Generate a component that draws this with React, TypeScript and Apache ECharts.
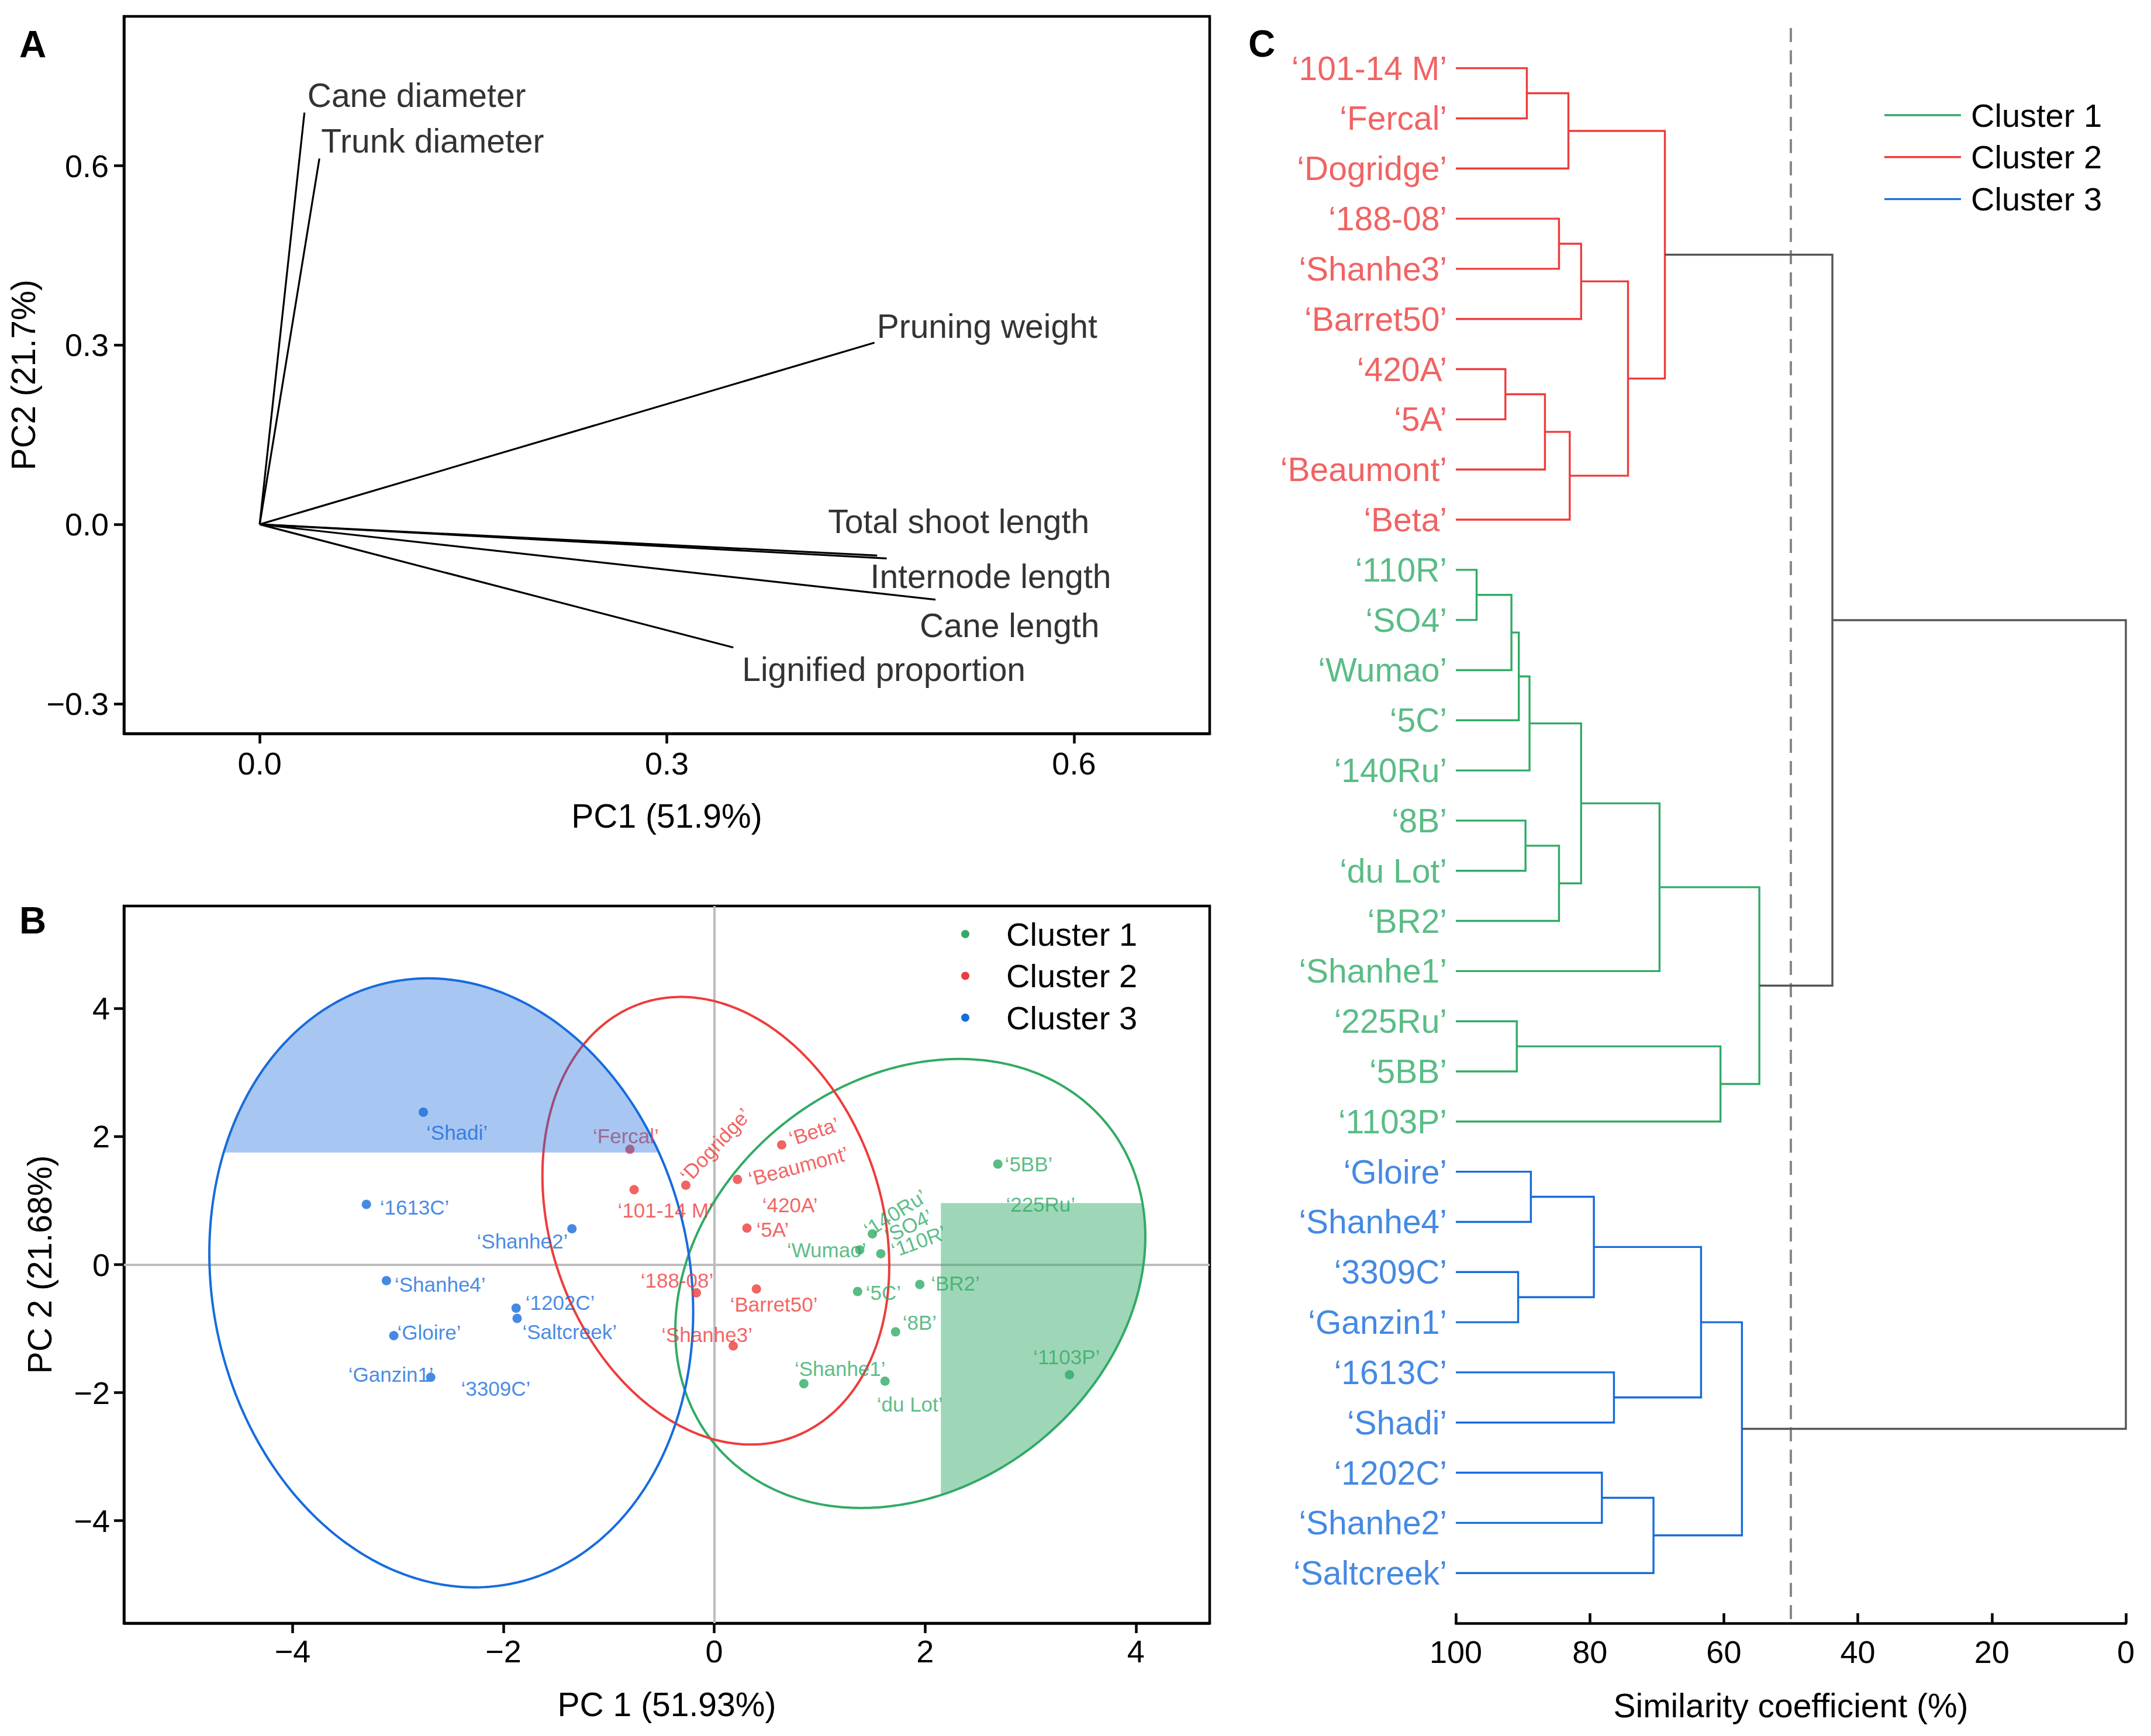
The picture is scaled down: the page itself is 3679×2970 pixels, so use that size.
import React, { useEffect, useRef } from 'react';
import * as echarts from 'echarts';

const FONT = '"Liberation Sans", Arial, Helvetica, sans-serif';
const GREEN = '#31ab66';
const RED = '#ee3c3c';
const BLUE = '#176cdc';
const GRAY = '#555555';
const clusterColor: Record<number, string> = { 1: GREEN, 2: RED, 3: BLUE };

// ---------- Panel A: loadings ----------
const loadingNames = ['Cane diameter', 'Trunk diameter', 'Pruning weight', 'Total shoot length', 'Internode length', 'Cane length', 'Lignified proportion'];
const loadingPC1 = [0.033, 0.044, 0.453, 0.455, 0.462, 0.498, 0.349];
const loadingPC2 = [0.689, 0.612, 0.304, -0.052, -0.057, -0.126, -0.206];
const loadingLabelOffsets = [[5, -30], [3, -30], [4, -28], [-84, -58], [-28, 31], [-27, 44], [15, 37]];
const ticksA_X = [0, 0.3, 0.6];
const ticksA_Y = [-0.3, 0, 0.3, 0.6];

// ---------- Panel B: scores ----------
const cluster1Names = ['5BB', '225Ru', '140Ru', 'SO4', 'Wumao', '110R', '5C', 'BR2', '8B', 'Shanhe1', 'du Lot', '1103P'];
const cluster1PC1 = [2.69, 2.70, 1.50, 1.50, 1.38, 1.58, 1.36, 1.95, 1.72, 0.85, 1.62, 3.37];
const cluster1PC2 = [1.57, 0.96, 0.48, 0.31, 0.23, 0.17, -0.42, -0.31, -1.05, -1.86, -1.82, -1.72];
const cluster1Hollow = [false, true, false, true, false, false, false, false, false, false, false, false];

const cluster2Names = ['Fercal', '101-14 M', 'Dogridge', 'Beta', 'Beaumont', '420A', '5A', '188-08', 'Barret50', 'Shanhe3'];
const cluster2PC1 = [-0.80, -0.76, -0.27, 0.64, 0.22, 0.35, 0.31, -0.17, 0.40, 0.18];
const cluster2PC2 = [1.80, 1.17, 1.24, 1.87, 1.33, 1.04, 0.57, -0.44, -0.38, -1.27];
const cluster2Hollow = [false, false, false, false, false, true, false, false, false, false];

const cluster3Names = ['Shadi', '1613C', 'Shanhe2', 'Shanhe4', '1202C', 'Saltcreek', 'Gloire', 'Ganzin1', '3309C'];
const cluster3PC1 = [-2.76, -3.30, -1.35, -3.11, -1.88, -1.87, -3.04, -2.69, -2.48];
const cluster3PC2 = [2.38, 0.94, 0.56, -0.25, -0.68, -0.84, -1.11, -1.76, -1.81];
const cluster3Hollow = [false, false, false, false, false, false, false, false, true];

// ellipse parameters: cluster 1, 2, 3
const ellipseCX = [1.86, 0.015, -2.495];
const ellipseCY = [-0.295, 0.685, -0.285];
const ellipseVarX = [4.97, 2.706, 5.267];
const ellipseCov = [1.63, -1.16, -1.05];
const ellipseVarY = [12.29, 12.215, 22.61];
const ticksB = [-4, -2, 0, 2, 4];

// label placement (style): [dx, dy, align, rotate]
const pointLabelStyle: Record<string, [number, number, string, number]> = {
  'Shadi': [5, 35, 'left', 0], '1613C': [23, 5, 'left', 0], 'Shanhe2': [-7, 21, 'right', 0],
  'Shanhe4': [14, 7, 'left', 0], '1202C': [16, -9, 'left', 0], 'Saltcreek': [9, 23, 'left', 0],
  'Gloire': [6, -6, 'left', 0], 'Ganzin1': [5, -5, 'right', 0], '3309C': [14, 14, 'left', 0],
  'Fercal': [-7, -23, 'center', 0], '101-14 M': [-28, 35, 'left', 0], 'Dogridge': [6, -10, 'left', 47],
  'Beta': [16, -5, 'left', 18], 'Beaumont': [19, 5, 'left', 15], '420A': [19, 12, 'left', 0],
  '5A': [16, 2, 'left', 0], '188-08': [-33, -21, 'center', 0], 'Barret50': [-45, 26, 'left', 0],
  'Shanhe3': [-45, -19, 'center', 0],
  '5BB': [12, 0, 'left', 0], '225Ru': [12, 2, 'left', 0], '140Ru': [-7, -10, 'left', 32],
  'SO4': [27, -2, 'left', 26], 'Wumao': [11, 0, 'right', 0], '110R': [20, 2, 'left', 20],
  '5C': [14, 2, 'left', 0], 'BR2': [19, -2, 'left', 0], '8B': [12, -16, 'left', 0],
  'Shanhe1': [-16, -26, 'left', 0], 'du Lot': [-14, 40, 'left', 0], '1103P': [-5, -30, 'center', 0],
};

// ---------- Panel C: dendrogram ----------
const leafNames = ['101-14 M', 'Fercal', 'Dogridge', '188-08', 'Shanhe3', 'Barret50', '420A', '5A', 'Beaumont', 'Beta',
  '110R', 'SO4', 'Wumao', '5C', '140Ru', '8B', 'du Lot', 'BR2', 'Shanhe1', '225Ru', '5BB', '1103P',
  'Gloire', 'Shanhe4', '3309C', 'Ganzin1', '1613C', 'Shadi', '1202C', 'Shanhe2', 'Saltcreek'];
const leafCluster = [2, 2, 2, 2, 2, 2, 2, 2, 2, 2,
  1, 1, 1, 1, 1, 1, 1, 1, 1, 1, 1, 1,
  3, 3, 3, 3, 3, 3, 3, 3, 3];
// [childA, childB, similarity]; new nodes numbered from 31
const dendroMerges: [number, number, number][] = [
  [0, 1, 89.4], [31, 2, 83.2], [3, 4, 84.6], [33, 5, 81.3], [6, 7, 92.6], [35, 8, 86.7], [36, 9, 83.0],
  [34, 37, 74.3], [32, 38, 68.8],
  [10, 11, 96.9], [40, 12, 91.7], [41, 13, 90.6], [42, 14, 89.0], [15, 16, 89.6], [44, 17, 84.6],
  [43, 45, 81.3], [46, 18, 69.6], [19, 20, 90.9], [48, 21, 60.5], [47, 49, 54.7],
  [22, 23, 88.8], [24, 25, 90.7], [51, 52, 79.4], [26, 27, 76.4], [53, 54, 63.4], [28, 29, 78.2],
  [56, 30, 70.5], [55, 57, 57.3],
  [39, 50, 43.8], [59, 58, 0],
];
const similarityCutoff = 50;

// ---------- helpers ----------
function ellipsePoints(k: number, n = 360): number[][] {
  const a = Math.sqrt(ellipseVarX[k]);
  const b1 = ellipseCov[k] / a;
  const b2 = Math.sqrt(ellipseVarY[k] - (ellipseCov[k] * ellipseCov[k]) / ellipseVarX[k]);
  const pts: number[][] = [];
  for (let i = 0; i < n; i++) {
    const t = (i / n) * Math.PI * 2;
    pts.push([ellipseCX[k] + a * Math.cos(t), ellipseCY[k] + b1 * Math.cos(t) + b2 * Math.sin(t)]);
  }
  return pts;
}

function clipHalf(poly: number[][], axis: number, c: number, keepGreater: boolean): number[][] {
  const out: number[][] = [];
  for (let i = 0; i < poly.length; i++) {
    const a = poly[i];
    const b = poly[(i + 1) % poly.length];
    const ina = keepGreater ? a[axis] >= c : a[axis] <= c;
    const inb = keepGreater ? b[axis] >= c : b[axis] <= c;
    if (ina) out.push(a);
    if (ina !== inb) {
      const t = (c - a[axis]) / (b[axis] - a[axis]);
      out.push([a[0] + t * (b[0] - a[0]), a[1] + t * (b[1] - a[1])]);
    }
  }
  return out;
}

// shaded regions (cluster index -> clipped part of its ellipse)
function shadedRegion(k: number): number[][] {
  const e = ellipsePoints(k);
  if (k === 2) return clipHalf(e, 1, 1.75, true);
  if (k === 0) return clipHalf(clipHalf(e, 0, 2.15, true), 1, 0.96, false);
  return [];
}
const shadeColors = ['rgba(49,171,102,0.47)', '', 'rgba(23,108,220,0.38)'];

const fmtA = (v: number) => (v < 0 ? '\u2212' : '') + Math.abs(v).toFixed(1);
const fmtB = (v: number) => (v < 0 ? '\u2212' : '') + Math.abs(v);

const axisLineStyle = { color: '#000', width: 4.5 };
const tickFont = { fontSize: 54, fontFamily: FONT, color: '#000' };
const nameFont = { fontSize: 57, fontFamily: FONT, color: '#000' };

function scoreSeries(name: string, names: string[], xs: number[], ys: number[], hollow: boolean[], color: string) {
  return {
    type: 'scatter', name, xAxisIndex: 1, yAxisIndex: 1, z: 4, silent: true,
    itemStyle: { color },
    data: names.map((n, i) => {
      const st = pointLabelStyle[n] || [10, 0, 'left', 0];
      return {
        value: [xs[i], ys[i]], name: n,
        symbol: hollow[i] ? 'emptyCircle' : 'circle',
        symbolSize: hollow[i] ? 14 : 16,
        itemStyle: hollow[i] ? { color: '#fff', borderColor: color, borderWidth: 2.5 } : { color },
        label: {
          show: true, formatter: '\u2018' + n + '\u2019', position: 'inside',
          align: st[2], verticalAlign: 'middle', offset: [st[0], st[1]], rotate: st[3],
          color, fontSize: 35, fontFamily: FONT, textBorderWidth: 0,
        },
      };
    }),
  };
}

function buildOption(): any {
  // dendrogram geometry
  const nodeY: number[] = leafNames.map((_, i) => i);
  const nodeH: number[] = leafNames.map(() => 100);
  const nodeC: number[] = leafCluster.slice();
  const dendroData: any[] = [];
  dendroMerges.forEach(([a, b, h]) => {
    const c = nodeC[a] === nodeC[b] ? nodeC[a] : 0;
    dendroData.push({
      coords: [[nodeH[a], nodeY[a]], [h, nodeY[a]], [h, nodeY[b]], [nodeH[b], nodeY[b]]],
      lineStyle: { color: c ? clusterColor[c] : GRAY, width: 3.4, opacity: 1 },
    });
    nodeY.push((nodeY[a] + nodeY[b]) / 2);
    nodeH.push(h);
    nodeC.push(c);
  });

  const gridBox = { show: true, borderColor: '#000', borderWidth: 4.5, backgroundColor: 'transparent' };

  return {
    animation: false,
    backgroundColor: '#fff',
    textStyle: { fontFamily: FONT },
    grid: [
      { ...gridBox, left: 212, top: 28, width: 1857, height: 1227 },
      { ...gridBox, left: 212, top: 1550, width: 1857, height: 1227 },
      { show: false, left: 2490, top: 48, width: 1146, height: 2729 },
    ],
    xAxis: [
      {
        gridIndex: 0, type: 'value', min: -0.1, max: 0.7,
        axisLine: { show: true, onZero: false, lineStyle: axisLineStyle },
        axisTick: { show: true, inside: false, length: 17, lineStyle: axisLineStyle, customValues: ticksA_X },
        axisLabel: { ...tickFont, margin: 24, customValues: ticksA_X, formatter: fmtA },
        splitLine: { show: false },
        name: 'PC1 (51.9%)', nameLocation: 'middle', nameGap: 112, nameTextStyle: nameFont,
      },
      {
        gridIndex: 1, type: 'value', min: -5.6, max: 4.7,
        axisLine: { show: true, onZero: false, lineStyle: axisLineStyle },
        axisTick: { show: true, inside: false, length: 17, lineStyle: axisLineStyle, customValues: ticksB },
        axisLabel: { ...tickFont, margin: 21, customValues: ticksB, formatter: fmtB },
        splitLine: { show: false },
        name: 'PC 1 (51.93%)', nameLocation: 'middle', nameGap: 110, nameTextStyle: nameFont,
      },
      {
        gridIndex: 2, type: 'value', min: 0, max: 100, interval: 20, inverse: true,
        axisLine: { show: true, onZero: false, lineStyle: axisLineStyle },
        axisTick: { show: true, inside: true, length: 17, lineStyle: axisLineStyle },
        axisLabel: { ...tickFont, margin: 22 },
        splitLine: { show: false },
        name: 'Similarity coefficient (%)', nameLocation: 'middle', nameGap: 112, nameTextStyle: nameFont,
      },
    ],
    yAxis: [
      {
        gridIndex: 0, type: 'value', min: -0.35, max: 0.85,
        axisLine: { show: true, onZero: false, lineStyle: axisLineStyle },
        axisTick: { show: true, inside: false, length: 17, lineStyle: axisLineStyle, customValues: ticksA_Y },
        axisLabel: { ...tickFont, margin: 26, customValues: ticksA_Y, formatter: fmtA },
        splitLine: { show: false },
        name: 'PC2 (21.7%)', nameLocation: 'middle', nameGap: 113, nameTextStyle: nameFont,
      },
      {
        gridIndex: 1, type: 'value', min: -5.6, max: 5.6,
        axisLine: { show: true, onZero: false, lineStyle: axisLineStyle },
        axisTick: { show: true, inside: false, length: 17, lineStyle: axisLineStyle, customValues: ticksB },
        axisLabel: { ...tickFont, margin: 24, customValues: ticksB, formatter: fmtB },
        splitLine: { show: false },
        name: 'PC 2 (21.68%)', nameLocation: 'middle', nameGap: 116, nameTextStyle: nameFont,
      },
      { gridIndex: 2, type: 'value', min: -0.8, max: 31, inverse: true, show: false },
    ],
    series: [
      // Panel A vectors
      {
        type: 'lines', coordinateSystem: 'cartesian2d', xAxisIndex: 0, yAxisIndex: 0, silent: true,
        lineStyle: { color: '#000', width: 3.2, opacity: 1, curveness: 0 },
        data: loadingNames.map((_, i) => ({ coords: [[0, 0], [loadingPC1[i], loadingPC2[i]]] })),
      },
      {
        type: 'scatter', xAxisIndex: 0, yAxisIndex: 0, symbolSize: 0, silent: true,
        data: loadingNames.map((n, i) => ({
          value: [loadingPC1[i], loadingPC2[i]], name: n,
          label: {
            show: true, formatter: n, position: 'inside', align: 'left', verticalAlign: 'middle',
            offset: loadingLabelOffsets[i], color: '#000', fontSize: 57, fontFamily: FONT, textBorderWidth: 0,
          },
        })),
      },
      // Panel B zero lines
      {
        type: 'lines', coordinateSystem: 'cartesian2d', xAxisIndex: 1, yAxisIndex: 1, silent: true, z: 1,
        lineStyle: { color: '#bdbdbd', width: 4, opacity: 1 },
        data: [{ coords: [[0, -5.6], [0, 5.6]] }, { coords: [[-5.6, 0], [4.7, 0]] }],
      },
      // ellipses
      {
        type: 'custom', xAxisIndex: 1, yAxisIndex: 1, silent: true, z: 3,
        data: ellipseCX.map((cx, i) => [cx, ellipseCY[i]]),
        renderItem: (params: any, api: any) => {
          const k = params.dataIndex;
          const pts = ellipsePoints(k).map((p) => api.coord(p));
          return {
            type: 'polygon', shape: { points: pts },
            style: { fill: 'none', stroke: clusterColor[k + 1], lineWidth: 4 },
          };
        },
      },
      scoreSeries('Cluster 1', cluster1Names, cluster1PC1, cluster1PC2, cluster1Hollow, GREEN),
      scoreSeries('Cluster 2', cluster2Names, cluster2PC1, cluster2PC2, cluster2Hollow, RED),
      scoreSeries('Cluster 3', cluster3Names, cluster3PC1, cluster3PC2, cluster3Hollow, BLUE),
      // shaded regions
      {
        type: 'custom', xAxisIndex: 1, yAxisIndex: 1, silent: true, z: 6,
        data: [[ellipseCX[0], ellipseCY[0]], [ellipseCX[2], ellipseCY[2]]],
        renderItem: (params: any, api: any) => {
          const k = params.dataIndex === 0 ? 0 : 2;
          const pts = shadedRegion(k).map((p) => api.coord(p));
          return { type: 'polygon', shape: { points: pts }, style: { fill: shadeColors[k], stroke: 'none' } };
        },
      },
      // Panel C dendrogram
      {
        type: 'lines', coordinateSystem: 'cartesian2d', polyline: true, xAxisIndex: 2, yAxisIndex: 2, silent: true,
        lineStyle: { width: 3.4, opacity: 1 },
        data: dendroData,
      },
      {
        type: 'lines', coordinateSystem: 'cartesian2d', xAxisIndex: 2, yAxisIndex: 2, silent: true, z: 1,
        lineStyle: { color: '#888888', width: 4, opacity: 1, type: [24, 14] },
        data: [{ coords: [[similarityCutoff, -0.8], [similarityCutoff, 31]] }],
      },
      {
        type: 'scatter', xAxisIndex: 2, yAxisIndex: 2, symbolSize: 0, silent: true,
        data: leafNames.map((n, i) => ({
          value: [100, i], name: n,
          label: {
            show: true, formatter: '\u2018' + n + '\u2019', position: 'left', distance: 15,
            color: clusterColor[leafCluster[i]], fontSize: 57, fontFamily: FONT, verticalAlign: 'middle',
          },
        })),
      },
    ],
    graphic: [
      { type: 'text', x: 56, y: 76, style: { text: 'A', fontSize: 64, fontWeight: 'bold', fontFamily: FONT, fill: '#000', align: 'center', verticalAlign: 'middle' } },
      { type: 'text', x: 56, y: 1575, style: { text: 'B', fontSize: 64, fontWeight: 'bold', fontFamily: FONT, fill: '#000', align: 'center', verticalAlign: 'middle' } },
      { type: 'text', x: 2158, y: 75, style: { text: 'C', fontSize: 64, fontWeight: 'bold', fontFamily: FONT, fill: '#000', align: 'center', verticalAlign: 'middle' } },
      // Panel B legend
      ...[GREEN, RED, BLUE].flatMap((c, i) => [
        { type: 'circle', shape: { cx: 1651, cy: 1598 + i * 71.5, r: 7 }, style: { fill: c } },
        { type: 'text', x: 1721, y: 1598 + i * 71.5, style: { text: 'Cluster ' + (i + 1), fontSize: 56, fontFamily: FONT, fill: '#000', align: 'left', verticalAlign: 'middle' } },
      ]),
      // Panel C legend
      ...[GREEN, RED, BLUE].flatMap((c, i) => [
        { type: 'line', shape: { x1: 3223, y1: 197 + i * 71.8, x2: 3354, y2: 197 + i * 71.8 }, style: { stroke: c, lineWidth: 3.4 } },
        { type: 'text', x: 3371, y: 197 + i * 71.8, style: { text: 'Cluster ' + (i + 1), fontSize: 56, fontFamily: FONT, fill: '#000', align: 'left', verticalAlign: 'middle' } },
      ]),
    ],
  };
}

export default function App() {
  const ref = useRef<HTMLDivElement>(null);
  useEffect(() => {
    document.body.style.margin = '0';
    const chart = echarts.init(ref.current as HTMLDivElement, null, { renderer: 'svg' });
    chart.setOption(buildOption());
    return () => chart.dispose();
  }, []);
  return <div ref={ref} style={{ width: 3679, height: 2970, background: '#fff' }} />;
}
